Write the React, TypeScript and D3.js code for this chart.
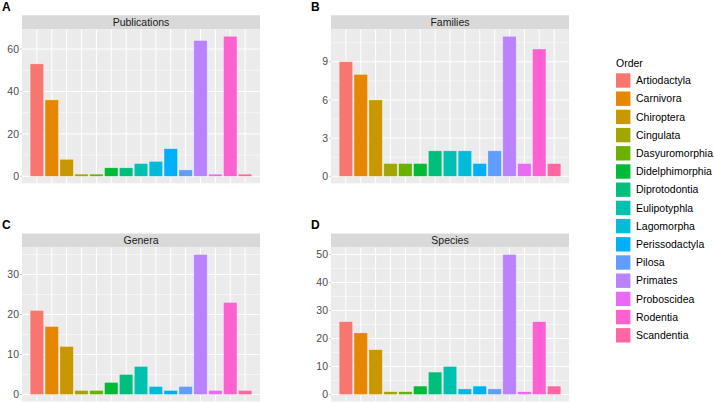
import React from "react";
import * as d3 from "d3";

const orders = [
  "Artiodactyla", "Carnivora", "Chiroptera", "Cingulata", "Dasyuromorphia",
  "Didelphimorphia", "Diprotodontia", "Eulipotyphla", "Lagomorpha",
  "Perissodactyla", "Pilosa", "Primates", "Proboscidea", "Rodentia", "Scandentia",
];
const palette = [
  "#F8766D", "#E58700", "#C99800", "#A3A500", "#6BB100", "#00BA38", "#00BF7D",
  "#00C0AF", "#00BCD8", "#00B0F6", "#619CFF", "#B983FF", "#E76BF3", "#FD61D1", "#FF67A4",
];
const publications = [53, 36, 8, 1, 1, 4, 4, 6, 7, 13, 3, 64, 1, 66, 1];
const families = [9, 8, 6, 1, 1, 1, 2, 2, 2, 1, 2, 11, 1, 10, 1];
const genera = [21, 17, 12, 1, 1, 3, 5, 7, 2, 1, 2, 35, 1, 23, 1];
const species = [26, 22, 16, 1, 1, 3, 8, 10, 2, 3, 2, 50, 1, 26, 3];

const pubTicks = [0, 20, 40, 60];
const famTicks = [0, 3, 6, 9];
const genTicks = [0, 10, 20, 30];
const spTicks = [0, 10, 20, 30, 40, 50];

const FONT = "'Liberation Sans', Arial, Helvetica, sans-serif";

type PanelProps = {
  letter: string;
  title: string;
  values: number[];
  ticks: number[];
  x0: number;
  x1: number;
  top: number; // strip top
};

function Panel({ letter, title, values, ticks, x0, x1, top }: PanelProps) {
  const stripH = 14;
  const pTop = top + stripH;
  const pBottom = pTop + 154;
  const maxV = d3.max(values) as number;
  const pad = maxV * 0.05;
  const y = d3.scaleLinear().domain([-pad, maxV + pad]).range([pBottom, pTop]);
  const x = d3.scaleBand<string>().domain(orders).range([x0, x1]).paddingInner(0.1).paddingOuter(0.55);
  const step = ticks[1] - ticks[0];
  const minor: number[] = [];
  for (let v = ticks[0] - step / 2; v <= maxV + pad; v += step) {
    if (v >= -pad) minor.push(v);
  }
  return (
    <g>
      <text x={x0 - 20} y={top - 4.5} fontFamily={FONT} fontWeight="bold" fontSize={12} fill="#000">{letter}</text>
      <rect x={x0} y={top} width={x1 - x0} height={stripH} fill="#D9D9D9" />
      <text x={(x0 + x1) / 2} y={top + stripH / 2} dy="0.36em" textAnchor="middle" fontFamily={FONT} fontSize={10.5} fill="#1A1A1A">{title}</text>
      <rect x={x0} y={pTop} width={x1 - x0} height={pBottom - pTop} fill="#EBEBEB" />
      {minor.map((v) => (
        <line key={"mn" + v} x1={x0} x2={x1} y1={y(v)} y2={y(v)} stroke="#fff" strokeWidth={0.5} />
      ))}
      {ticks.map((v) => (
        <line key={"mj" + v} x1={x0} x2={x1} y1={y(v)} y2={y(v)} stroke="#fff" strokeWidth={1} />
      ))}
      {orders.map((o) => (
        <line key={"vx" + o} x1={(x(o) as number) + x.bandwidth() / 2} x2={(x(o) as number) + x.bandwidth() / 2} y1={pTop} y2={pBottom} stroke="#fff" strokeWidth={1} />
      ))}
      {values.map((v, i) => (
        <rect key={"b" + i} x={x(orders[i]) as number} width={x.bandwidth()} y={y(v)} height={y(0) - y(v)} fill={palette[i]} stroke="#fff" strokeOpacity={0.45} strokeWidth={0.6} />
      ))}
      {ticks.map((v) => (
        <g key={"t" + v}>
          <line x1={x0 - 2} x2={x0} y1={y(v)} y2={y(v)} stroke="#999" strokeWidth={0.5} />
          <text x={x0 - 3} y={y(v)} dy="0.35em" textAnchor="end" fontFamily={FONT} fontSize={10.5} fill="#4D4D4D">{v}</text>
        </g>
      ))}
    </g>
  );
}

export default function App() {
  const legendTop = 73.3;
  const legendStep = 18.2;
  return (
    <svg width={714} height={402} style={{ position: "absolute", left: 0, top: 0, background: "#fff" }}>
      <rect width={714} height={402} fill="#fff" />
      <Panel letter="A" title="Publications" values={publications} ticks={pubTicks} x0={22} x1={260} top={15.3} />
      <Panel letter="B" title="Families" values={families} ticks={famTicks} x0={331} x1={569} top={15.3} />
      <Panel letter="C" title="Genera" values={genera} ticks={genTicks} x0={22} x1={260} top={233.5} />
      <Panel letter="D" title="Species" values={species} ticks={spTicks} x0={331} x1={569} top={233.5} />
      <g>
        <text x={616} y={66.5} fontFamily={FONT} fontSize={10.5} fill="#000">Order</text>
        {orders.map((o, i) => (
          <g key={o}>
            <rect x={616} y={legendTop + i * legendStep} width={14.4} height={14.4} fill={palette[i]} />
            <text x={636} y={legendTop + i * legendStep + 7.2} dy="0.35em" fontFamily={FONT} fontSize={10.5} fill="#000">{o}</text>
          </g>
        ))}
      </g>
    </svg>
  );
}
